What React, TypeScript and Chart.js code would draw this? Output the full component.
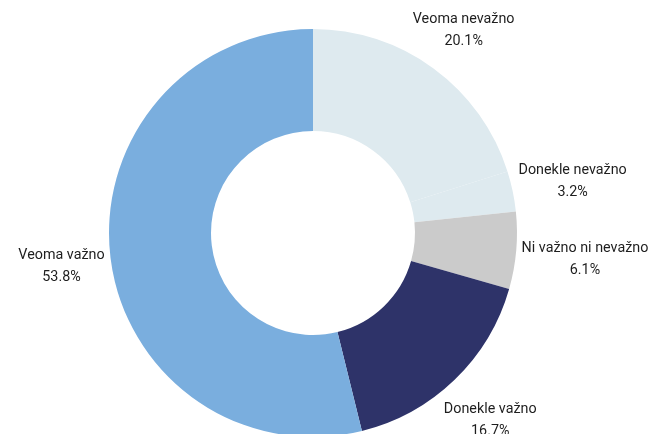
import React, { useEffect, useRef } from "react";
import { Chart, registerables } from "chart.js";

Chart.register(...registerables);

const categories = ["Veoma nevažno", "Donekle nevažno", "Ni važno ni nevažno", "Donekle važno", "Veoma važno"];
const values = [20.1, 3.2, 6.1, 16.7, 53.8];
const valueLabels = ["20.1%", "3.2%", "6.1%", "16.7%", "53.8%"];
const colors = ["#deeaef", "#deeaef", "#cbcbcb", "#2e3369", "#7aaede"];

const labelPlugin = {
  id: "outerLabels",
  afterDraw(chart: any) {
    const ctx = chart.ctx;
    const meta = chart.getDatasetMeta(0);
    ctx.save();
    ctx.font = '15px Roboto, "Liberation Sans", sans-serif';
    ctx.fillStyle = "#1e1e1e";
    ctx.textAlign = "center";
    ctx.textBaseline = "middle";
    const sx = 0.955;
    const lineGap = 11;
    const halfH = 21;
    meta.data.forEach((arc: any, i: number) => {
      const mid = (arc.startAngle + arc.endAngle) / 2;
      const w = sx * Math.max(ctx.measureText(categories[i]).width, ctx.measureText(valueLabels[i]).width);
      const c = Math.cos(mid);
      const s = Math.sin(mid);
      const R = arc.outerRadius + 4 + (w / 2) * Math.abs(c) + halfH * Math.abs(s);
      const x = arc.x + c * R;
      const y = arc.y + s * R + 3;
      ctx.save();
      ctx.translate(x, y);
      ctx.scale(sx, 1);
      ctx.fillText(categories[i], 0, -lineGap);
      ctx.fillText(valueLabels[i], 0, lineGap);
      ctx.restore();
    });
    ctx.restore();
  },
};

export default function App() {
  const ref = useRef<HTMLCanvasElement>(null);
  useEffect(() => {
    if (!ref.current) return;
    const chart = new Chart(ref.current, {
      type: "doughnut",
      data: {
        labels: categories,
        datasets: [
          {
            data: values,
            backgroundColor: colors,
            borderWidth: 0,
          },
        ],
      },
      options: {
        responsive: false,
        animation: false,
        cutout: "50%",
        layout: { padding: { top: 21, bottom: 21, left: 0, right: 38 } },
        plugins: { legend: { display: false }, tooltip: { enabled: false } },
      },
      plugins: [labelPlugin],
    });
    return () => chart.destroy();
  }, []);
  return (
    <div style={{ width: 648, height: 426, overflow: "hidden" }}>
      <canvas ref={ref} width={648} height={450} style={{ display: "block" }} />
    </div>
  );
}
